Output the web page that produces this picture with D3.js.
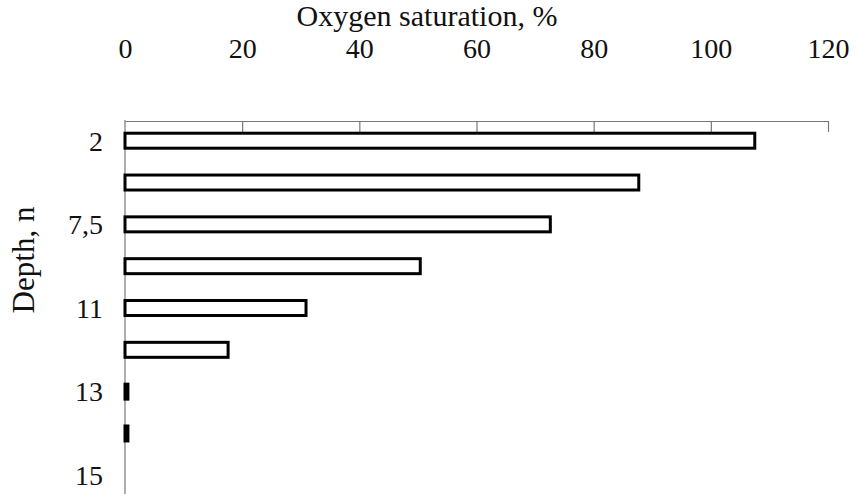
<!DOCTYPE html>
<html><head><meta charset="utf-8">
<script src="https://cdn.jsdelivr.net/npm/d3@7"></script>
<style>body{margin:0;background:#fff}svg{display:block}</style>
</head><body>
<script>
const depths = ["2","5","7,5","9","11","12","13","14","15"];
const depthLabels = ["2","","7,5","","11","","13","","15"];
const saturation = [107.5, 87.7, 72.6, 50.4, 30.9, 17.6, 0.5, 0.5, null];
const xTicks = [0,20,40,60,80,100,120];

const FONT="'Liberation Serif','DejaVu Serif',serif";
const fsTick = 28, fsTitle = 30;

const W=859,H=494;
const svg=d3.select("body").append("svg").attr("width",W).attr("height",H)
  .attr("font-family",FONT);
const x=d3.scaleLinear().domain([0,120]).range([125,828]);
const y=d3.scaleBand().domain(depths).range([120,496]).paddingInner(0.57).paddingOuter(0.28);

// top axis
const gx=svg.append("g").attr("transform","translate(0,121)")
  .call(d3.axisTop(x).tickValues(xTicks).tickSize(-11).tickSizeOuter(0).tickPadding(0).tickFormat(d3.format("d")));
gx.attr("font-family",null).attr("font-size",null);
gx.select(".domain").attr("stroke","#777").attr("stroke-width",1.2);
gx.selectAll(".tick line").attr("stroke","#777").attr("stroke-width",1.2);
gx.selectAll(".tick line").filter(d=>d===0).remove();
gx.selectAll(".tick text").attr("y",-63).attr("dy",null).attr("font-size",fsTick).attr("fill","#111").style("font-family",FONT);

// left axis
const gy=svg.append("g").attr("transform","translate(125,0)")
  .call(d3.axisLeft(y).tickSize(0).tickPadding(22).tickFormat((d,i)=>depthLabels[i]));
gy.attr("font-family",null).attr("font-size",null);
gy.select(".domain").remove();
svg.append("line").attr("x1",125).attr("x2",125).attr("y1",120).attr("y2",494).attr("stroke","#777").attr("stroke-width",1.2);
gy.selectAll(".tick text").attr("font-size",fsTick).attr("fill","#111").attr("dy","0.35em").style("font-family",FONT);

// bars
svg.append("g").selectAll("rect").data(depths.map((d,i)=>({d,v:saturation[i]})).filter(o=>o.v!=null))
  .join("rect")
  .attr("x",x(0)).attr("y",o=>y(o.d)+1.5)
  .attr("width",o=>Math.max(0,x(o.v)-x(0)))
  .attr("height",y.bandwidth()-3)
  .attr("fill","#fff").attr("stroke","#000").attr("stroke-width",3);

// titles
svg.append("text").attr("x",427).attr("y",26).attr("text-anchor","middle").attr("font-size",fsTitle).attr("fill","#111").style("font-family",FONT).text("Oxygen saturation, %");
svg.append("text").attr("transform","translate(34,260) rotate(-90)").attr("text-anchor","middle").attr("font-size",31).attr("fill","#111").style("font-family",FONT).text("Depth, n");
</script>
</body></html>
